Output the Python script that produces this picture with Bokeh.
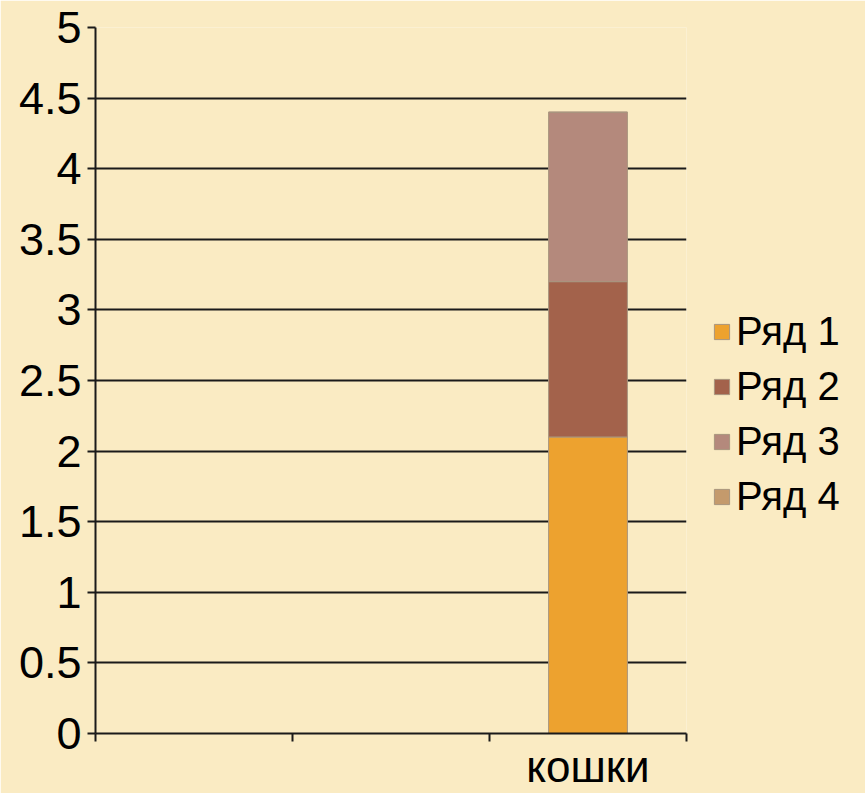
import numpy as np
from bokeh.plotting import figure
from bokeh.models import ColumnDataSource, FixedTicker, Legend, LegendItem, Range1d
from bokeh.embed import file_html
from bokeh.resources import INLINE

# ---- data ----
categories = ["", "", "кошки"]
series_names = ["Ряд 1", "Ряд 2", "Ряд 3", "Ряд 4"]
ryad1 = [np.nan, np.nan, 2.1]
ryad2 = [np.nan, np.nan, 1.1]
ryad3 = [np.nan, np.nan, 1.2]
ryad4 = [np.nan, np.nan, 0.0]
y_ticks = [0, 0.5, 1, 1.5, 2, 2.5, 3, 3.5, 4, 4.5, 5]
y_tick_labels = ["0", "0.5", "1", "1.5", "2", "2.5", "3", "3.5", "4", "4.5", "5"]

colors = ["#EDA22F", "#A3624B", "#B4897C", "#C49A6C"]
FONT = "Liberation Sans"
BG = "#FAEBC3"

x_centers = [i + 0.5 for i in range(len(categories))]
x_bounds = [float(i) for i in range(len(categories) + 1)]

src = ColumnDataSource(dict(x=x_centers, s1=ryad1, s2=ryad2, s3=ryad3, s4=ryad4))

p = figure(
    frame_width=591, frame_height=706,
    min_border_left=95, min_border_right=176, min_border_top=27, min_border_bottom=60,
    x_range=Range1d(0, len(categories)), y_range=Range1d(0, 5),
    output_backend="svg", toolbar_location=None,
)
p.background_fill_color = BG
p.border_fill_color = BG
p.outline_line_color = None

renderers = p.vbar_stack(["s1", "s2", "s3", "s4"], x="x", width=0.4, source=src,
                         fill_color=colors, line_color="#A8957E", line_width=1)

# grid
p.xgrid.visible = False
p.ygrid.ticker = FixedTicker(ticks=y_ticks)
p.ygrid.grid_line_color = "#1a1a1a"
p.ygrid.grid_line_width = 2

# y axis
ya = p.yaxis[0]
ya.ticker = FixedTicker(ticks=y_ticks)
ya.major_label_overrides = {t: l for t, l in zip(y_ticks, y_tick_labels)}
ya.axis_line_color = "#1a1a1a"
ya.axis_line_width = 2
ya.major_tick_line_color = "#1a1a1a"
ya.major_tick_line_width = 2
ya.major_tick_out = 8
ya.major_tick_in = 0
ya.minor_tick_line_color = None
ya.major_label_standoff = 6
ya.major_label_text_font = FONT
ya.major_label_text_font_size = "45px"
ya.major_label_text_color = "black"

# x axis
xa = p.xaxis[0]
xa.ticker = FixedTicker(ticks=x_centers, minor_ticks=x_bounds)
xa.major_label_overrides = {c: l for c, l in zip(x_centers, categories)}
xa.axis_line_color = "#1a1a1a"
xa.axis_line_width = 2
xa.major_tick_line_color = None
xa.minor_tick_line_color = "#1a1a1a"
xa.minor_tick_line_width = 2
xa.minor_tick_out = 8
xa.minor_tick_in = 0
xa.major_tick_out = 8
xa.major_tick_in = 0
xa.major_label_standoff = 0
xa.major_label_text_font = FONT
xa.major_label_text_font_size = "44px"
xa.major_label_text_color = "black"

legend = Legend(
    items=[LegendItem(label=n, renderers=[r]) for n, r in zip(series_names, renderers)],
    location=(26, 214),
    glyph_width=19, glyph_height=19, label_standoff=5,
    spacing=10, padding=0, margin=0,
    label_text_font=FONT, label_text_font_size="40px", label_text_color="black",
    border_line_color=None, background_fill_alpha=0,
)
p.add_layout(legend, "right")

open("out.html", "w").write(file_html(p, INLINE))
